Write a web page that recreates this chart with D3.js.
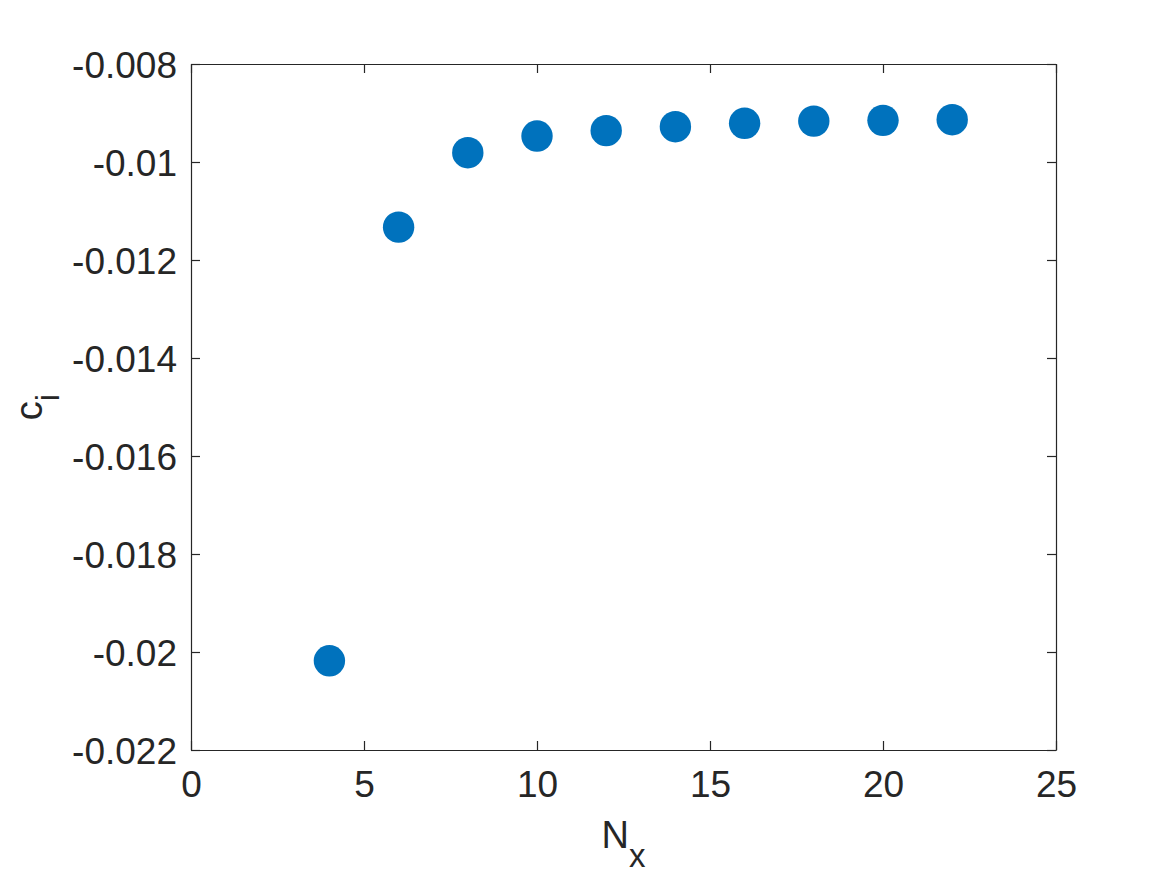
<!DOCTYPE html>
<html><head><meta charset="utf-8">
<script src="https://cdn.jsdelivr.net/npm/d3@7"></script>
<style>body{margin:0;background:#fff}svg{display:block}</style>
</head><body>
<script>
const nx = [4, 6, 8, 10, 12, 14, 16, 18, 20, 22];
const ci = [-0.02018, -0.01133, -0.00981, -0.00947, -0.00936, -0.00928, -0.00921, -0.009165, -0.00915, -0.009137];
const xTicks = [0, 5, 10, 15, 20, 25];
const yTicks = [-0.008, -0.01, -0.012, -0.014, -0.016, -0.018, -0.02, -0.022];
const yTickLabels = ["-0.008", "-0.01", "-0.012", "-0.014", "-0.016", "-0.018", "-0.02", "-0.022"];

const W = 1167, H = 875;
const L = 191, R = 1056, T = 64, B = 750;
const ink = "#262626";
const font = "Liberation Sans, Arial, sans-serif";
const fs = 37;

const svg = d3.select("body").append("svg").attr("width", W).attr("height", H);
const x = d3.scaleLinear().domain([0, 25]).range([L, R]);
const y = d3.scaleLinear().domain([-0.022, -0.008]).range([B, T]);

const tl = 9;
const gx = svg.append("g").attr("transform", `translate(0,${B})`)
  .call(d3.axisBottom(x).tickValues(xTicks).tickSizeInner(-tl).tickSizeOuter(0).tickPadding(21).tickFormat(d3.format("d")));
const gxt = svg.append("g").attr("transform", `translate(0,${T})`)
  .call(d3.axisTop(x).tickValues(xTicks).tickSizeInner(-tl).tickSizeOuter(0).tickFormat(""));
const gy = svg.append("g").attr("transform", `translate(${L},0)`)
  .call(d3.axisLeft(y).tickValues(yTicks).tickSizeInner(-tl).tickSizeOuter(0).tickPadding(14).tickFormat((d, i) => yTickLabels[i]));
const gyr = svg.append("g").attr("transform", `translate(${R},0)`)
  .call(d3.axisRight(y).tickValues(yTicks).tickSizeInner(-tl).tickSizeOuter(0).tickFormat(""));

[gx, gxt, gy, gyr].forEach(g => {
  g.select(".domain").attr("stroke", ink).attr("stroke-width", 1.2);
  g.selectAll(".tick line").attr("stroke", ink).attr("stroke-width", 1.2);
  g.selectAll(".tick text").attr("fill", ink).style("font-family", font).style("font-size", fs + "px");
});
gx.selectAll(".tick text").attr("dy", "0.71em");
gy.selectAll(".tick text").attr("dy", "0.36em");

const xl = svg.append("text").attr("x", (L + R) / 2).attr("y", 848).attr("text-anchor", "middle")
  .attr("fill", ink).style("font-family", font).style("font-size", "38px");
xl.append("tspan").text("N");
xl.append("tspan").text("x").attr("dy", 19).style("font-size", "33px");

const yl = svg.append("text").attr("transform", `translate(42,${(T + B) / 2}) rotate(-90)`).attr("text-anchor", "middle")
  .attr("fill", ink).style("font-family", font).style("font-size", "38px");
yl.append("tspan").text("c");
yl.append("tspan").text("i").attr("dy", 17).style("font-size", "33px");

svg.append("g").selectAll("circle").data(nx).join("circle")
  .attr("cx", d => x(d)).attr("cy", (d, i) => y(ci[i])).attr("r", 15.7)
  .attr("fill", "#0072BD");
</script>
</body></html>
